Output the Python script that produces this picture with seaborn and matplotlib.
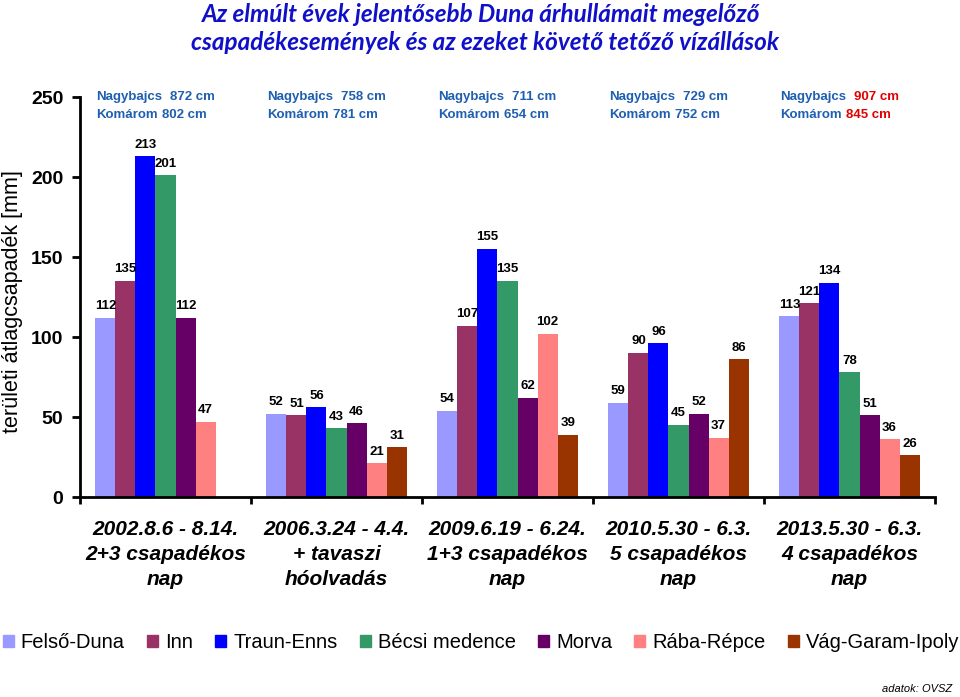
import numpy as np
import pandas as pd
import matplotlib
matplotlib.use("Agg")
import matplotlib.pyplot as plt
import matplotlib.transforms as mtransforms
import seaborn as sns

events = ["2002.8.6 - 8.14.\n2+3 csapadékos\nnap",
          "2006.3.24 - 4.4.\n+ tavaszi\nhóolvadás",
          "2009.6.19 - 6.24.\n1+3 csapadékos\nnap",
          "2010.5.30 - 6.3.\n5 csapadékos\nnap",
          "2013.5.30 - 6.3.\n4 csapadékos\nnap"]
regions = ["Felső-Duna", "Inn", "Traun-Enns", "Bécsi medence", "Morva", "Rába-Répce", "Vág-Garam-Ipoly"]
felso_duna = [112, 52, 54, 59, 113]
inn = [135, 51, 107, 90, 121]
traun_enns = [213, 56, 155, 96, 134]
becsi_medence = [201, 43, 135, 45, 78]
morva = [112, 46, 62, 52, 51]
raba_repce = [47, 21, 102, 37, 36]
vag_garam_ipoly = [np.nan, 31, 39, 86, 26]
nagybajcs = ["872 cm", "758 cm", "711 cm", "729 cm", "907 cm"]
komarom = ["802 cm", "781 cm", "654 cm", "752 cm", "845 cm"]
record = [False, False, False, False, True]

colors = ["#9999FF", "#993366", "#0000FF", "#339966", "#660066", "#FF8080", "#993300"]

series = [felso_duna, inn, traun_enns, becsi_medence, morva, raba_repce, vag_garam_ipoly]
rows = []
for reg, vals in zip(regions, series):
    for ev, v in zip(events, vals):
        rows.append({"event": ev, "region": reg, "value": v})
df = pd.DataFrame(rows)

sns.set_style("white")
plt.rcParams["font.family"] = ["Liberation Sans", "DejaVu Sans"]
plt.rcParams["text.color"] = "black"
plt.rcParams["axes.labelcolor"] = "black"
plt.rcParams["xtick.color"] = "black"
plt.rcParams["ytick.color"] = "black"

fig = plt.figure(figsize=(9.6, 6.97), dpi=100)
ax = fig.add_axes([80/960, 1-497/697, 855/960, 400/697])

sns.barplot(data=df, x="event", y="value", hue="region", order=events, hue_order=regions,
            palette=colors, saturation=1, width=0.82, edgecolor="none", linewidth=0,
            ax=ax, legend=True)

for c in ax.containers:
    labels = ["" if np.isnan(v) else f"{v:.0f}" for v in c.datavalues]
    ax.bar_label(c, labels=labels, padding=4, fontsize=9.5, fontweight="bold", color="black")

ax.set_xlim(-0.5, 4.5)
ax.set_ylim(0, 250)
ax.set_yticks([0, 50, 100, 150, 200, 250])
ax.set_yticklabels(["0", "50", "100", "150", "200", "250"], fontsize=14, fontweight="bold")
ax.set_ylabel("")
ax.set_xlabel("")
ax.set_xticks(np.arange(-0.5, 5.0, 1.0))
ax.set_xticklabels([])
ax.tick_params(axis="x", direction="out", length=5, width=2, color="black", bottom=True)
ax.tick_params(axis="y", direction="out", length=6, width=2, color="black", left=True, pad=6)
for i, ev in enumerate(events):
    ax.text(i, -14.5, ev, ha="center", va="top", fontsize=15, fontweight="bold",
            fontstyle="italic", linespacing=1.4)

fig.text(13/960, 1-302/697, "területi átlagcsapadék [mm]", rotation=90, ha="center", va="center",
         fontsize=15.5, color="black")

for s in ["top", "right"]:
    ax.spines[s].set_visible(False)
for s in ["left", "bottom"]:
    ax.spines[s].set_linewidth(2)
    ax.spines[s].set_color("black")

blue = "#1F5FB0"
red = "#E00000"
for i in range(5):
    x0 = i - 0.5 + 0.095
    vc = red if record[i] else blue
    ax.text(x0, 250, "Nagybajcs", fontsize=9.5, fontweight="bold", color=blue, va="center", ha="left")
    t1 = mtransforms.offset_copy(ax.transData, fig=fig, x=74, y=0, units="dots")
    ax.text(x0, 250, nagybajcs[i], fontsize=9.5, fontweight="bold", color=vc, va="center", ha="left", transform=t1)
    ax.text(x0, 239, "Komárom", fontsize=9.5, fontweight="bold", color=blue, va="center", ha="left")
    t2 = mtransforms.offset_copy(ax.transData, fig=fig, x=66, y=0, units="dots")
    ax.text(x0, 239, komarom[i], fontsize=9.5, fontweight="bold", color=vc, va="center", ha="left", transform=t2)

ax.get_legend().remove()
handles = [plt.Rectangle((0, 0), 1, 1, color=c) for c in colors]
fig.legend(handles, regions, loc="center", bbox_to_anchor=(481/960, 1-643/697), ncol=7, frameon=False,
           fontsize=14.5, handlelength=0.55, handleheight=0.55, handletextpad=0.35, columnspacing=1.1,
           borderpad=0, borderaxespad=0)

fig.text(481/960, 1-15/697, "Az elmúlt évek jelentősebb Duna árhullámait megelőző",
         ha="center", va="center", fontsize=17.5, fontweight="bold", fontstyle="italic",
         color="#1010C8", family=["Lato", "DejaVu Sans"])
fig.text(485/960, 1-43/697, "csapadékesemények és az ezeket követő tetőző vízállások",
         ha="center", va="center", fontsize=17.5, fontweight="bold", fontstyle="italic",
         color="#1010C8", family=["Lato", "DejaVu Sans"])
fig.text(952/960, 1-689/697, "adatok: OVSZ", ha="right", va="center", fontsize=8,
         fontstyle="italic", color="black")

fig.savefig("out.png", dpi=100, facecolor="white")
